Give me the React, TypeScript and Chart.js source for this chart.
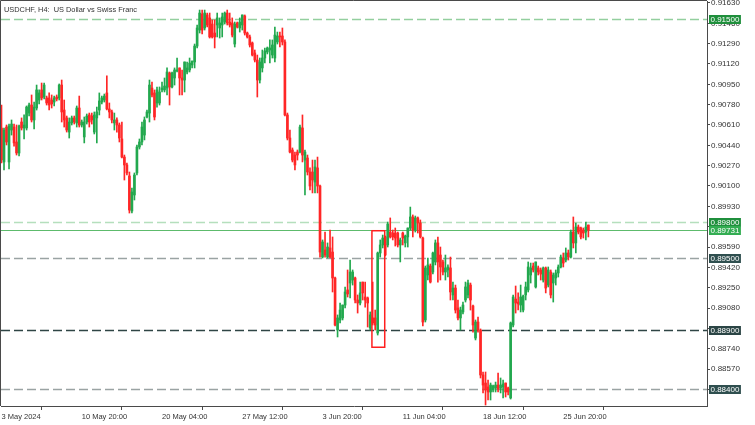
import React, { useEffect, useRef } from 'react';
import { Chart, registerables } from 'chart.js';

Chart.register(...registerables);

// ---- DATA (USDCHF H4, 3 May 2024 12:00 .. 27 Jun 2024 12:00) ----
const openP = [
  0.90585, 0.90301, 0.90593, 0.90301, 0.90568, 0.90593, 0.90468, 0.90376, 0.90635, 0.90585,
  0.90585, 0.90710, 0.90777, 0.90652, 0.90752, 0.90819, 0.90903, 0.90844, 0.90836, 0.90836,
  0.90819, 0.90802, 0.90844, 0.90836, 0.90944, 0.90735, 0.90669, 0.90551, 0.90627, 0.90669,
  0.90627, 0.90752, 0.90610, 0.90510, 0.90635, 0.90694, 0.90685, 0.90551, 0.90669, 0.90735,
  0.90802, 0.90819, 0.90878, 0.90744, 0.90719, 0.90627, 0.90652, 0.90610, 0.90493, 0.90342,
  0.90276, 0.90184, 0.89891, 0.90025, 0.90209, 0.90426, 0.90468, 0.90526, 0.90677, 0.90710,
  0.90919, 0.90878, 0.90794, 0.90794, 0.90903, 0.90903, 0.90919, 0.91045, 0.90928, 0.91003,
  0.91061, 0.91087, 0.91003, 0.90986, 0.91053, 0.91070, 0.91112, 0.91137, 0.91270, 0.91404,
  0.91538, 0.91421, 0.91530, 0.91505, 0.91454, 0.91379, 0.91446, 0.91421, 0.91446, 0.91471,
  0.91546, 0.91471, 0.91463, 0.91287, 0.91463, 0.91421, 0.91446, 0.91521, 0.91379, 0.91346,
  0.91296, 0.91212, 0.91153, 0.90986, 0.91087, 0.91170, 0.91220, 0.91237, 0.91195, 0.91170,
  0.91304, 0.91354, 0.91354, 0.91304, 0.90694, 0.90501, 0.90401, 0.90359, 0.90384, 0.90384,
  0.90585, 0.90317, 0.90334, 0.90217, 0.90217, 0.90133, 0.90251, 0.90100, 0.89506, 0.89565,
  0.89506, 0.89582, 0.89548, 0.89331, 0.88896, 0.88980, 0.88997, 0.89105, 0.89231, 0.89289,
  0.89314, 0.89331, 0.89147, 0.89122, 0.89297, 0.89172, 0.89164, 0.88913, 0.88997, 0.88997,
  0.88871, 0.89540, 0.89607, 0.89674, 0.89607, 0.89715, 0.89707, 0.89707, 0.89707, 0.89607,
  0.89707, 0.89624, 0.89674, 0.89749, 0.89841, 0.89732, 0.89833, 0.89791, 0.89665, 0.88980,
  0.89356, 0.89431, 0.89381, 0.89465, 0.89624, 0.89523, 0.89465, 0.89381, 0.89398, 0.89415,
  0.89189, 0.89247, 0.89080, 0.88997, 0.89047, 0.89147, 0.89189, 0.89272, 0.89097, 0.88829,
  0.88963, 0.88896, 0.88520, 0.88453, 0.88420, 0.88378, 0.88395, 0.88411, 0.88436, 0.88411,
  0.88420, 0.88453, 0.88411, 0.88328, 0.88938, 0.89155, 0.89130, 0.89105, 0.89063, 0.89189,
  0.89231, 0.89356, 0.89431, 0.89256, 0.89415, 0.89398, 0.89314, 0.89415, 0.89272, 0.89381,
  0.89289, 0.89331, 0.89373, 0.89423, 0.89498, 0.89481, 0.89540, 0.89506, 0.89715, 0.89624,
  0.89757, 0.89749, 0.89732, 0.89715, 0.89774,
];

const highP = [
  0.90777, 0.90585, 0.90610, 0.90618, 0.90652, 0.90618, 0.90610, 0.90610, 0.90669, 0.90694,
  0.90769, 0.90794, 0.90861, 0.90802, 0.90944, 0.90903, 0.90961, 0.90961, 0.90852, 0.90878,
  0.90861, 0.90852, 0.90861, 0.90953, 0.90986, 0.90819, 0.90685, 0.90669, 0.90685, 0.90685,
  0.90769, 0.90852, 0.90652, 0.90677, 0.90702, 0.90710, 0.90710, 0.90719, 0.90760, 0.90878,
  0.90852, 0.90869, 0.91020, 0.90794, 0.90735, 0.90710, 0.90669, 0.90627, 0.90635, 0.90359,
  0.90292, 0.90217, 0.90083, 0.90209, 0.90443, 0.90493, 0.90635, 0.90677, 0.90735, 0.90986,
  0.90969, 0.90903, 0.90928, 0.90928, 0.90969, 0.91003, 0.91087, 0.91053, 0.91053, 0.91087,
  0.91170, 0.91087, 0.91070, 0.91137, 0.91137, 0.91170, 0.91145, 0.91287, 0.91446, 0.91571,
  0.91571, 0.91571, 0.91546, 0.91546, 0.91488, 0.91488, 0.91546, 0.91505, 0.91546, 0.91555,
  0.91571, 0.91546, 0.91505, 0.91471, 0.91471, 0.91505, 0.91530, 0.91530, 0.91387, 0.91362,
  0.91304, 0.91237, 0.91195, 0.91170, 0.91237, 0.91254, 0.91262, 0.91321, 0.91321, 0.91429,
  0.91387, 0.91387, 0.91421, 0.91321, 0.90710, 0.90568, 0.90418, 0.90384, 0.90401, 0.90610,
  0.90694, 0.90401, 0.90359, 0.90251, 0.90317, 0.90317, 0.90342, 0.90108, 0.89649, 0.89715,
  0.89624, 0.89732, 0.89674, 0.89339, 0.89022, 0.89122, 0.89105, 0.89256, 0.89398, 0.89481,
  0.89398, 0.89339, 0.89189, 0.89297, 0.89297, 0.89297, 0.89172, 0.89047, 0.89297, 0.89063,
  0.89548, 0.89649, 0.89690, 0.89682, 0.89799, 0.89833, 0.89732, 0.89749, 0.89715, 0.89665,
  0.89715, 0.89690, 0.89749, 0.89924, 0.89858, 0.89849, 0.89841, 0.89816, 0.89674, 0.89431,
  0.89498, 0.89448, 0.89548, 0.89649, 0.89674, 0.89590, 0.89481, 0.89523, 0.89440, 0.89506,
  0.89297, 0.89272, 0.89147, 0.89088, 0.89130, 0.89297, 0.89314, 0.89289, 0.89105, 0.88980,
  0.89005, 0.88905, 0.88545, 0.88545, 0.88478, 0.88453, 0.88436, 0.88461, 0.88537, 0.88495,
  0.88478, 0.88453, 0.88420, 0.88963, 0.89189, 0.89264, 0.89206, 0.89272, 0.89189, 0.89297,
  0.89465, 0.89456, 0.89456, 0.89465, 0.89431, 0.89415, 0.89423, 0.89423, 0.89423, 0.89398,
  0.89373, 0.89398, 0.89440, 0.89523, 0.89540, 0.89582, 0.89565, 0.89732, 0.89841, 0.89791,
  0.89774, 0.89757, 0.89749, 0.89799, 0.89774,
];

const lowP = [
  0.90292, 0.90234, 0.90443, 0.90242, 0.90526, 0.90434, 0.90359, 0.90351, 0.90568, 0.90493,
  0.90568, 0.90685, 0.90635, 0.90577, 0.90735, 0.90786, 0.90819, 0.90827, 0.90777, 0.90735,
  0.90752, 0.90769, 0.90811, 0.90819, 0.90635, 0.90593, 0.90551, 0.90501, 0.90610, 0.90618,
  0.90593, 0.90593, 0.90593, 0.90460, 0.90618, 0.90593, 0.90618, 0.90535, 0.90460, 0.90694,
  0.90786, 0.90802, 0.90735, 0.90669, 0.90627, 0.90568, 0.90551, 0.90468, 0.90334, 0.90150,
  0.90192, 0.89874, 0.89874, 0.89983, 0.90192, 0.90409, 0.90443, 0.90485, 0.90669, 0.90635,
  0.90844, 0.90652, 0.90760, 0.90777, 0.90886, 0.90886, 0.90861, 0.90777, 0.90919, 0.90944,
  0.91053, 0.90861, 0.90861, 0.90886, 0.91036, 0.91053, 0.91087, 0.91087, 0.91254, 0.91379,
  0.91371, 0.91404, 0.91429, 0.91337, 0.91337, 0.91254, 0.91346, 0.91337, 0.91346, 0.91454,
  0.91446, 0.91429, 0.91346, 0.91262, 0.91421, 0.91387, 0.91404, 0.91362, 0.91337, 0.91262,
  0.91187, 0.91137, 0.90844, 0.90961, 0.91053, 0.91128, 0.91204, 0.91128, 0.91170, 0.91137,
  0.91287, 0.91262, 0.91279, 0.90685, 0.90485, 0.90376, 0.90301, 0.90234, 0.90317, 0.90376,
  0.90301, 0.90025, 0.90192, 0.90067, 0.90042, 0.90042, 0.90042, 0.89506, 0.89498, 0.89506,
  0.89498, 0.89498, 0.89214, 0.88930, 0.88838, 0.88955, 0.88980, 0.89080, 0.89172, 0.89164,
  0.89272, 0.89122, 0.89038, 0.89105, 0.89147, 0.89088, 0.88921, 0.88896, 0.88938, 0.88896,
  0.88854, 0.89506, 0.89582, 0.89515, 0.89590, 0.89665, 0.89649, 0.89598, 0.89590, 0.89465,
  0.89607, 0.89590, 0.89590, 0.89732, 0.89674, 0.89715, 0.89707, 0.89665, 0.88930, 0.88963,
  0.89314, 0.89289, 0.89364, 0.89440, 0.89297, 0.89314, 0.89356, 0.89314, 0.89339, 0.89147,
  0.89147, 0.89038, 0.88980, 0.88896, 0.89030, 0.89130, 0.89164, 0.89063, 0.88879, 0.88813,
  0.88879, 0.88495, 0.88370, 0.88269, 0.88311, 0.88311, 0.88378, 0.88378, 0.88378, 0.88370,
  0.88328, 0.88336, 0.88353, 0.88319, 0.88921, 0.89038, 0.89063, 0.89047, 0.89047, 0.89147,
  0.89214, 0.89289, 0.89381, 0.89247, 0.89356, 0.89314, 0.89297, 0.89206, 0.89256, 0.89164,
  0.89130, 0.89272, 0.89339, 0.89415, 0.89423, 0.89465, 0.89481, 0.89498, 0.89582, 0.89540,
  0.89699, 0.89657, 0.89665, 0.89649, 0.89674,
];

const closeP = [
  0.90317, 0.90568, 0.90468, 0.90602, 0.90618, 0.90460, 0.90376, 0.90602, 0.90585, 0.90610,
  0.90760, 0.90777, 0.90652, 0.90760, 0.90903, 0.90878, 0.90836, 0.90944, 0.90794, 0.90777,
  0.90786, 0.90836, 0.90827, 0.90944, 0.90719, 0.90652, 0.90568, 0.90635, 0.90669, 0.90635,
  0.90752, 0.90610, 0.90635, 0.90635, 0.90685, 0.90635, 0.90652, 0.90694, 0.90719, 0.90811,
  0.90836, 0.90852, 0.90744, 0.90719, 0.90652, 0.90652, 0.90610, 0.90501, 0.90342, 0.90276,
  0.90209, 0.89899, 0.90050, 0.90192, 0.90426, 0.90468, 0.90593, 0.90652, 0.90719, 0.90944,
  0.90861, 0.90677, 0.90903, 0.90886, 0.90919, 0.90936, 0.91053, 0.90928, 0.91045, 0.91070,
  0.91070, 0.91003, 0.90986, 0.91137, 0.91087, 0.91128, 0.91145, 0.91270, 0.91421, 0.91546,
  0.91404, 0.91546, 0.91446, 0.91346, 0.91346, 0.91346, 0.91505, 0.91463, 0.91513, 0.91546,
  0.91463, 0.91446, 0.91362, 0.91454, 0.91429, 0.91471, 0.91530, 0.91379, 0.91346, 0.91279,
  0.91195, 0.91153, 0.90986, 0.91137, 0.91170, 0.91229, 0.91254, 0.91254, 0.91279, 0.91362,
  0.91354, 0.91346, 0.91304, 0.90694, 0.90501, 0.90384, 0.90317, 0.90276, 0.90359, 0.90593,
  0.90359, 0.90384, 0.90217, 0.90100, 0.90150, 0.90259, 0.90100, 0.89548, 0.89632, 0.89523,
  0.89590, 0.89506, 0.89331, 0.88938, 0.88997, 0.89063, 0.89105, 0.89214, 0.89197, 0.89381,
  0.89381, 0.89147, 0.89122, 0.89206, 0.89206, 0.89147, 0.89122, 0.89022, 0.88955, 0.88938,
  0.89540, 0.89607, 0.89665, 0.89523, 0.89782, 0.89674, 0.89674, 0.89665, 0.89607, 0.89649,
  0.89665, 0.89682, 0.89749, 0.89841, 0.89732, 0.89833, 0.89791, 0.89674, 0.88963, 0.89415,
  0.89440, 0.89297, 0.89540, 0.89624, 0.89465, 0.89423, 0.89381, 0.89415, 0.89423, 0.89214,
  0.89247, 0.89063, 0.88997, 0.89063, 0.89105, 0.89256, 0.89289, 0.89147, 0.88938, 0.88963,
  0.88896, 0.88520, 0.88436, 0.88395, 0.88378, 0.88436, 0.88428, 0.88436, 0.88403, 0.88436,
  0.88445, 0.88378, 0.88378, 0.88955, 0.89172, 0.89122, 0.89114, 0.89172, 0.89180, 0.89256,
  0.89423, 0.89415, 0.89398, 0.89465, 0.89381, 0.89364, 0.89415, 0.89247, 0.89398, 0.89189,
  0.89356, 0.89373, 0.89423, 0.89506, 0.89456, 0.89540, 0.89506, 0.89715, 0.89624, 0.89757,
  0.89715, 0.89674, 0.89707, 0.89757, 0.89731,
];

// time axis: bar index of each date label
const xTickBars = [0, 32, 64, 96, 128, 160, 192, 224];
const xTickLabels = [
  '3 May 2024', '10 May 20:00', '20 May 04:00', '27 May 12:00',
  '3 Jun 20:00', '11 Jun 04:00', '18 Jun 12:00', '25 Jun 20:00',
];

// price axis ticks
const yTickValues = [
  0.9163, 0.9146, 0.9129, 0.9112, 0.9095, 0.9078, 0.9061, 0.9044, 0.9027, 0.901,
  0.8993, 0.8976, 0.8959, 0.8942, 0.8925, 0.8908, 0.8891, 0.8874, 0.8857, 0.884,
];

// horizontal levels
const levelPrices = [0.915, 0.898, 0.89731, 0.895, 0.889, 0.884];
const levelLabels = ['0.91500', '0.89800', '0.89731', '0.89500', '0.88900', '0.88400'];

// highlighted box: bar range and price range
const boxBars = [147.7, 152.8];
const boxPrices = [0.89726, 0.88752];

const titleText = 'USDCHF, H4:  US Dollar vs Swiss Franc';

// ---- STYLE ----
const UP = '#22a84e';
const DOWN = '#ff2626';
const AXIS = '#4a4a4a';
const TEXT = '#333333';
const levelStyles = [
  { line: '#93cf9e', dash: [9, 4], width: 1.5, box: '#1f8f3c' },
  { line: '#b5dfbd', dash: [9, 4], width: 1.5, box: '#1f8f3c' },
  { line: '#5dbb6c', dash: [], width: 1, box: '#33ad52' },
  { line: '#9aa3a3', dash: [9, 4], width: 1.5, box: '#2f4f4f' },
  { line: '#2f4545', dash: [9, 4], width: 1.5, box: '#2b4545' },
  { line: '#9aa3a3', dash: [9, 4], width: 1.5, box: '#2f4f4f' },
];

export default function App() {
  const ref = useRef<HTMLCanvasElement>(null);

  useEffect(() => {
    const canvas = ref.current;
    if (!canvas) return;
    const n = openP.length;
    const idx = Array.from({ length: n }, (_, i) => i);
    const colors = idx.map((i) => (closeP[i] >= openP[i] ? UP : DOWN));

    const overlay = {
      id: 'overlay',
      beforeDatasetsDraw(chart: any) {
        const { ctx, chartArea: a, scales } = chart;
        ctx.save();
        ctx.beginPath();
        ctx.rect(a.left, a.top, a.right - a.left, a.bottom - a.top);
        ctx.clip();
        levelPrices.forEach((p, k) => {
          const st = levelStyles[k];
          const py = Math.round(scales.y.getPixelForValue(p)) + 0.5;
          ctx.strokeStyle = st.line;
          ctx.lineWidth = st.width;
          ctx.setLineDash(st.dash);
          ctx.beginPath();
          ctx.moveTo(a.left, py);
          ctx.lineTo(a.right, py);
          ctx.stroke();
        });
        ctx.restore();
      },
      afterDraw(chart: any) {
        const { ctx, chartArea: a, scales } = chart;
        ctx.save();
        // highlight box
        const x0 = scales.x.getPixelForValue(boxBars[0]);
        const x1 = scales.x.getPixelForValue(boxBars[1]);
        const y0 = scales.y.getPixelForValue(boxPrices[0]);
        const y1 = scales.y.getPixelForValue(boxPrices[1]);
        ctx.strokeStyle = '#ff1f1f';
        ctx.lineWidth = 1.5;
        ctx.setLineDash([]);
        ctx.strokeRect(x0, y0, x1 - x0, y1 - y0);
        // frame top + left
        ctx.strokeStyle = AXIS;
        ctx.lineWidth = 1;
        ctx.beginPath();
        ctx.moveTo(0.5, a.bottom);
        ctx.lineTo(0.5, 0.5);
        ctx.lineTo(a.right, 0.5);
        ctx.stroke();
        // title
        ctx.fillStyle = TEXT;
        ctx.font = '7.4px "Liberation Sans", Arial, sans-serif';
        ctx.textBaseline = 'alphabetic';
        ctx.textAlign = 'left';
        ctx.fillText(titleText, 4, 11.5);
        // level labels on price axis
        ctx.font = '8px "Liberation Sans", Arial, sans-serif';
        ctx.textBaseline = 'middle';
        levelPrices.forEach((p, k) => {
          const st = levelStyles[k];
          const py = Math.round(scales.y.getPixelForValue(p)) + 0.5;
          const w = ctx.measureText(levelLabels[k]).width;
          ctx.fillStyle = st.box;
          ctx.fillRect(709, py - 4.5, w + 3, 9);
          ctx.fillStyle = '#ffffff';
          ctx.fillText(levelLabels[k], 710.5, py + 0.5);
        });
        ctx.restore();
      },
    };

    const chart = new Chart(canvas, {
      type: 'bar',
      data: {
        datasets: [
          {
            label: 'wick',
            data: idx.map((i) => ({ x: i, y: [lowP[i], highP[i]] })) as any,
            backgroundColor: colors,
            borderWidth: 0,
            barThickness: 1,
            grouped: false,
            order: 2,
          } as any,
          {
            label: 'body',
            data: idx.map((i) => ({ x: i, y: [openP[i], closeP[i]] })) as any,
            backgroundColor: colors,
            borderWidth: 0,
            barThickness: 2,
            minBarLength: 1,
            grouped: false,
            order: 1,
          } as any,
        ],
      },
      options: {
        animation: false,
        responsive: false,
        maintainAspectRatio: false,
        devicePixelRatio: 1,
        layout: { padding: { left: 1, top: 1, right: 0, bottom: 0 } },
        plugins: { legend: { display: false }, tooltip: { enabled: false }, title: { display: false } },
        scales: {
          x: {
            type: 'linear',
            min: -0.2,
            max: 281.3,
            offset: false,
            grid: { display: true, drawOnChartArea: false, drawTicks: true, tickLength: 4, color: AXIS },
            border: { display: true, color: AXIS },
            ticks: {
              autoSkip: false,
              maxRotation: 0,
              align: 'start',
              padding: 2,
              color: TEXT,
              font: { family: '"Liberation Sans", Arial, sans-serif', size: 7.5 },
              callback: (_v: any, i: number) => xTickLabels[i],
            },
            afterBuildTicks: (s: any) => {
              s.ticks = xTickBars.map((v) => ({ value: v }));
            },
            afterFit: (s: any) => {
              s.height = 19;
              s.paddingLeft = 0;
              s.paddingRight = 0;
            },
          },
          y: {
            type: 'linear',
            position: 'right',
            min: 0.882608,
            max: 0.916466,
            grid: { display: true, drawOnChartArea: false, drawTicks: true, tickLength: 3, color: AXIS },
            border: { display: true, color: AXIS },
            ticks: {
              autoSkip: false,
              padding: 1,
              color: TEXT,
              font: { family: '"Liberation Sans", Arial, sans-serif', size: 8 },
              callback: (v: any) => Number(v).toFixed(5),
            },
            afterBuildTicks: (s: any) => {
              s.ticks = yTickValues.map((v) => ({ value: v }));
            },
            afterFit: (s: any) => {
              s.width = 48;
              s.paddingTop = 0;
              s.paddingBottom = 0;
            },
          },
        },
      } as any,
      plugins: [overlay],
    });

    return () => chart.destroy();
  }, []);

  return (
    <div style={{ position: 'fixed', left: 0, top: 0, width: 755, height: 425, background: '#ffffff' }}>
      <canvas ref={ref} width={755} height={425} style={{ display: 'block', width: 755, height: 425 }} />
    </div>
  );
}
